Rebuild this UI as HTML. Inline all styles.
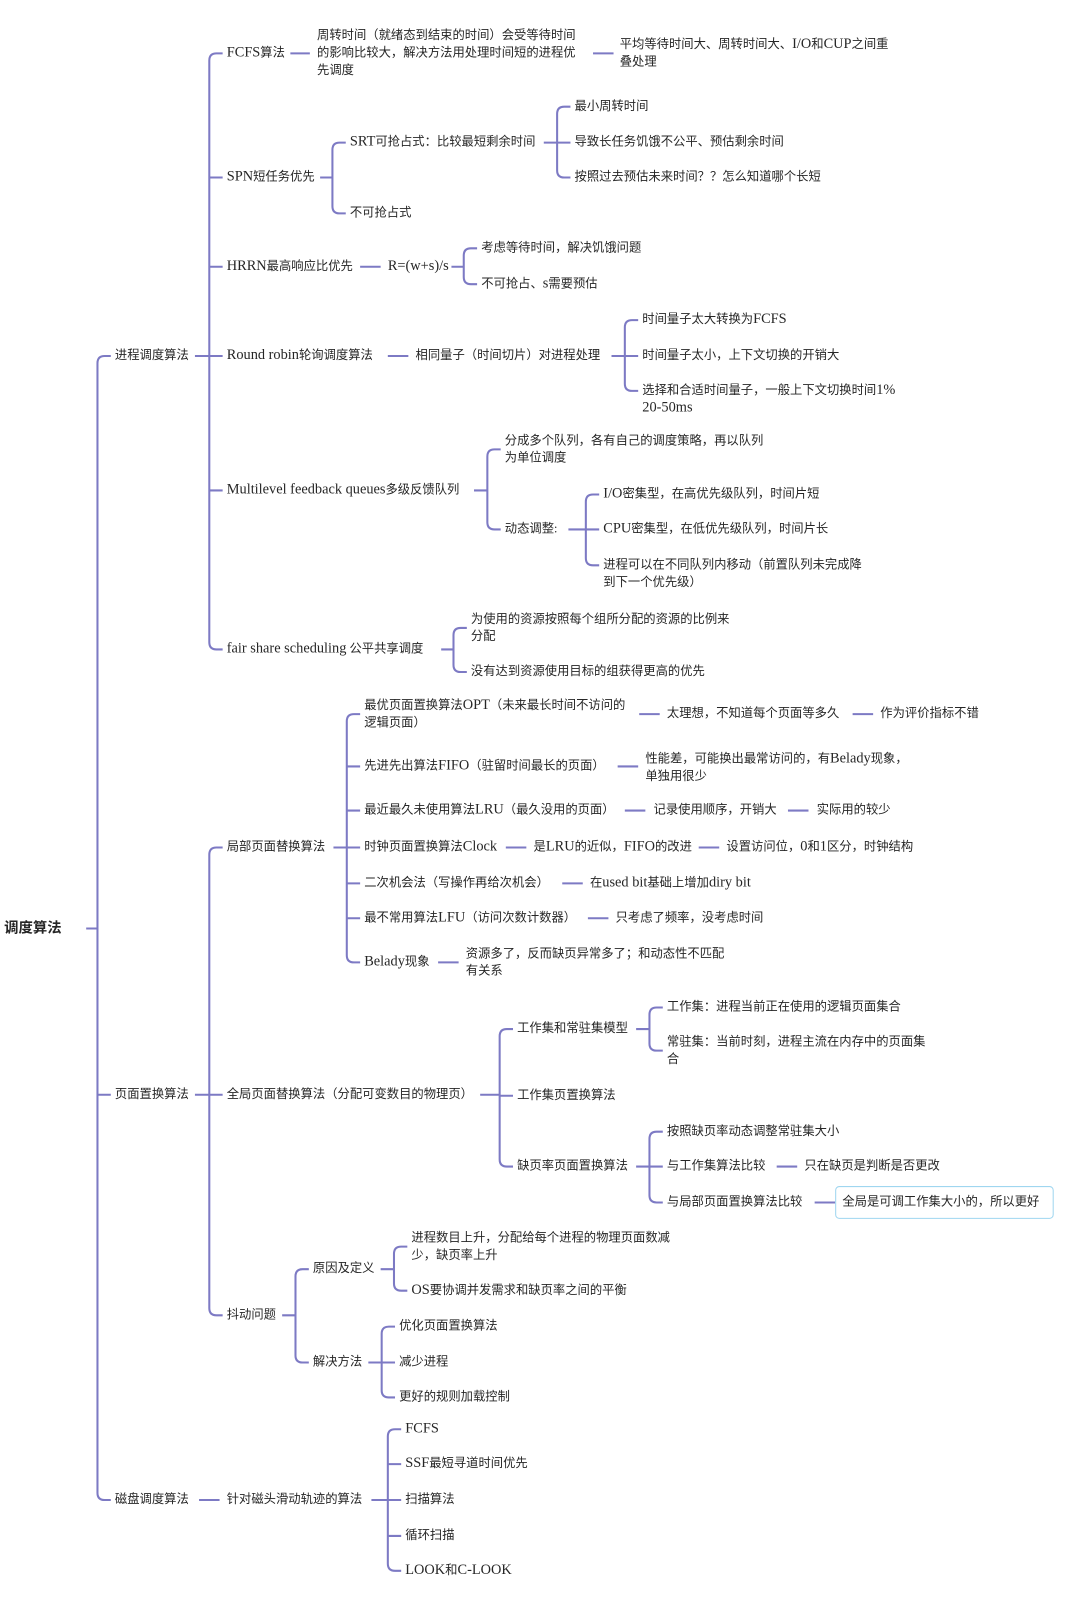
<!DOCTYPE html>
<html><head><meta charset="utf-8"><style>
html,body{margin:0;padding:0;background:#fff;width:1067px;height:1607px;overflow:hidden}
#w{position:absolute;left:0;top:0;width:1040px;height:1566px;transform:scale(1.026);transform-origin:0 0}
.t{position:absolute;font-family:"Liberation Serif","Noto Sans CJK SC",serif;font-size:12px;line-height:17px;color:#262626;white-space:nowrap}
.l{font-size:14px;line-height:10px}
.root{font-size:14px;font-weight:bold;font-family:"Liberation Sans","Noto Sans CJK SC",sans-serif}
svg{position:absolute;left:0;top:0}
.box{position:absolute;left:814px;top:1156px;width:211px;height:30px;border:1.5px solid #9fd6f0;border-radius:4px}
</style></head><body><div id="w">
<svg id="s" width="1040" height="1566"></svg>
<div class="box"></div>
<div class="t root" style="left:4px;top:896px">调度算法</div>
<div class="t" style="left:112px;top:338px">进程调度算法</div>
<div class="t" style="left:112px;top:1058px">页面置换算法</div>
<div class="t" style="left:112px;top:1453px">磁盘调度算法</div>
<div class="t" style="left:221px;top:43px"><span class="l">FCFS</span>算法</div>
<div class="t" style="left:309px;top:26px">周转时间（就绪态到结束的时间）会受等待时间<br>的影响比较大，解决方法用处理时间短的进程优<br>先调度</div>
<div class="t" style="left:604px;top:35px">平均等待时间大、周转时间大、<span class="l">I/O</span>和<span class="l">CUP</span>之间重<br>叠处理</div>
<div class="t" style="left:221px;top:164px"><span class="l">SPN</span>短任务优先</div>
<div class="t" style="left:341px;top:130px"><span class="l">SRT</span>可抢占式：比较最短剩余时间</div>
<div class="t" style="left:341px;top:199px">不可抢占式</div>
<div class="t" style="left:560px;top:95px">最小周转时间</div>
<div class="t" style="left:560px;top:130px">导致长任务饥饿不公平、预估剩余时间</div>
<div class="t" style="left:560px;top:164px">按照过去预估未来时间？？怎么知道哪个长短</div>
<div class="t" style="left:221px;top:251px"><span class="l">HRRN</span>最高响应比优先</div>
<div class="t" style="left:378px;top:251px"><span class="l">R=(w+s)/s</span></div>
<div class="t" style="left:469px;top:233px">考虑等待时间，解决饥饿问题</div>
<div class="t" style="left:469px;top:268px">不可抢占、<span class="l">s</span>需要预估</div>
<div class="t" style="left:221px;top:338px"><span class="l">Round robin</span>轮询调度算法</div>
<div class="t" style="left:405px;top:338px">相同量子（时间切片）对进程处理</div>
<div class="t" style="left:626px;top:303px">时间量子太大转换为<span class="l">FCFS</span></div>
<div class="t" style="left:626px;top:338px">时间量子太小，上下文切换的开销大</div>
<div class="t" style="left:626px;top:372px">选择和合适时间量子，一般上下文切换时间<span class="l">1%</span><br><span class="l">20-50ms</span></div>
<div class="t" style="left:221px;top:469px"><span class="l">Multilevel feedback queues</span>多级反馈队列</div>
<div class="t" style="left:492px;top:421px">分成多个队列，各有自己的调度策略，再以队列<br>为单位调度</div>
<div class="t" style="left:492px;top:507px">动态调整:</div>
<div class="t" style="left:588px;top:473px"><span class="l">I/O</span>密集型，在高优先级队列，时间片短</div>
<div class="t" style="left:588px;top:507px"><span class="l">CPU</span>密集型，在低优先级队列，时间片长</div>
<div class="t" style="left:588px;top:542px">进程可以在不同队列内移动（前置队列未完成降<br>到下一个优先级）</div>
<div class="t" style="left:221px;top:624px"><span class="l">fair share scheduling</span> 公平共享调度</div>
<div class="t" style="left:459px;top:595px">为使用的资源按照每个组所分配的资源的比例来<br>分配</div>
<div class="t" style="left:459px;top:646px">没有达到资源使用目标的组获得更高的优先</div>
<div class="t" style="left:221px;top:817px">局部页面替换算法</div>
<div class="t" style="left:355px;top:679px">最优页面置换算法<span class="l">OPT</span>（未来最长时间不访问的<br>逻辑页面）</div>
<div class="t" style="left:650px;top:687px">太理想，不知道每个页面等多久</div>
<div class="t" style="left:858px;top:687px">作为评价指标不错</div>
<div class="t" style="left:355px;top:738px">先进先出算法<span class="l">FIFO</span>（驻留时间最长的页面）</div>
<div class="t" style="left:629px;top:731px">性能差，可能换出最常访问的，有<span class="l">Belady</span>现象，<br>单独用很少</div>
<div class="t" style="left:355px;top:781px">最近最久未使用算法<span class="l">LRU</span>（最久没用的页面）</div>
<div class="t" style="left:637px;top:781px">记录使用顺序，开销大</div>
<div class="t" style="left:796px;top:781px">实际用的较少</div>
<div class="t" style="left:355px;top:817px">时钟页面置换算法<span class="l">Clock</span></div>
<div class="t" style="left:520px;top:817px">是<span class="l">LRU</span>的近似，<span class="l">FIFO</span>的改进</div>
<div class="t" style="left:708px;top:817px">设置访问位，<span class="l">0</span>和<span class="l">1</span>区分，时钟结构</div>
<div class="t" style="left:355px;top:852px">二次机会法（写操作再给次机会）</div>
<div class="t" style="left:575px;top:852px">在<span class="l">used bit</span>基础上增加<span class="l">diry bit</span></div>
<div class="t" style="left:355px;top:886px">最不常用算法<span class="l">LFU</span>（访问次数计数器）</div>
<div class="t" style="left:600px;top:886px">只考虑了频率，没考虑时间</div>
<div class="t" style="left:355px;top:929px"><span class="l">Belady</span>现象</div>
<div class="t" style="left:454px;top:921px">资源多了，反而缺页异常多了；和动态性不匹配<br>有关系</div>
<div class="t" style="left:221px;top:1058px">全局页面替换算法（分配可变数目的物理页）</div>
<div class="t" style="left:504px;top:994px">工作集和常驻集模型</div>
<div class="t" style="left:504px;top:1059px">工作集页置换算法</div>
<div class="t" style="left:504px;top:1128px">缺页率页面置换算法</div>
<div class="t" style="left:650px;top:973px">工作集：进程当前正在使用的逻辑页面集合</div>
<div class="t" style="left:650px;top:1007px">常驻集：当前时刻，进程主流在内存中的页面集<br>合</div>
<div class="t" style="left:650px;top:1094px">按照缺页率动态调整常驻集大小</div>
<div class="t" style="left:650px;top:1128px">与工作集算法比较</div>
<div class="t" style="left:784px;top:1128px">只在缺页是判断是否更改</div>
<div class="t" style="left:650px;top:1163px">与局部页面置换算法比较</div>
<div class="t" style="left:821px;top:1163px">全局是可调工作集大小的，所以更好</div>
<div class="t" style="left:221px;top:1273px">抖动问题</div>
<div class="t" style="left:305px;top:1228px">原因及定义</div>
<div class="t" style="left:305px;top:1319px">解决方法</div>
<div class="t" style="left:401px;top:1198px">进程数目上升，分配给每个进程的物理页面数减<br>少，缺页率上升</div>
<div class="t" style="left:401px;top:1249px"><span class="l">OS</span>要协调并发需求和缺页率之间的平衡</div>
<div class="t" style="left:389px;top:1284px">优化页面置换算法</div>
<div class="t" style="left:389px;top:1319px">减少进程</div>
<div class="t" style="left:389px;top:1353px">更好的规则加载控制</div>
<div class="t" style="left:221px;top:1453px">针对磁头滑动轨迹的算法</div>
<div class="t" style="left:395px;top:1384px"><span class="l">FCFS</span></div>
<div class="t" style="left:395px;top:1418px"><span class="l">SSF</span>最短寻道时间优先</div>
<div class="t" style="left:395px;top:1453px">扫描算法</div>
<div class="t" style="left:395px;top:1488px">循环扫描</div>
<div class="t" style="left:395px;top:1522px"><span class="l">LOOK</span>和<span class="l">C-LOOK</span></div>
</div>
<script>
var d="";
function L(x1,x2,y){d+="M"+x1+" "+y+"H"+x2;}
function B(pe,py,x,ys,cx){
 d+="M"+pe+" "+py+"H"+x;
 var t=ys[0],b=ys[ys.length-1];
 d+="M"+(cx-4)+" "+t+"H"+(x+7)+"Q"+x+" "+t+" "+x+" "+(t+7)+"V"+(b-7)+"Q"+x+" "+b+" "+(x+7)+" "+b+"H"+(cx-4);
 for(var i=1;i<ys.length-1;i++)L(x,cx-4,ys[i]);
}
B(84,905,95,[347,1067,1462],112);
B(190,347,204,[52,173,260,347,478,633],221);
L(283,302,52);L(578,598,52);
B(312,173,324,[139,208],341);
B(530,139,543,[104,139,173],560);
L(351,371,260);B(440,260,452,[242,277],469);
L(378,398,347);B(596,347,609,[312,347,381],626);
B(462,478,475,[438,516],492);
B(554,516,571,[482,516,551],588);
B(430,633,442,[612,655],459);
B(190,1067,204,[826,1067,1282],221);
B(325,826,338,[696,747,790,826,861,895,938],355);
L(623,643,696);L(831,851,696);L(602,622,747);L(609,629,790);L(768,788,790);
L(493,513,826);L(681,701,826);L(548,568,861);L(573,593,895);L(427,447,938);
B(468,1067,487,[1003,1068,1137],504);
B(620,1003,633,[982,1024],650);
B(620,1137,633,[1103,1137,1172],650);
L(757,777,1137);L(794,814,1172);
B(275,1282,288,[1237,1328],305);
B(371,1237,384,[1215,1258],401);
B(359,1328,372,[1293,1328,1362],389);
L(194,214,1462);B(362,1462,378,[1393,1427,1462,1497,1531],395);
document.getElementById("s").innerHTML='<path d="'+d+'" fill="none" stroke="#7d7ac4" stroke-width="2"/>';
</script>
</body></html>
